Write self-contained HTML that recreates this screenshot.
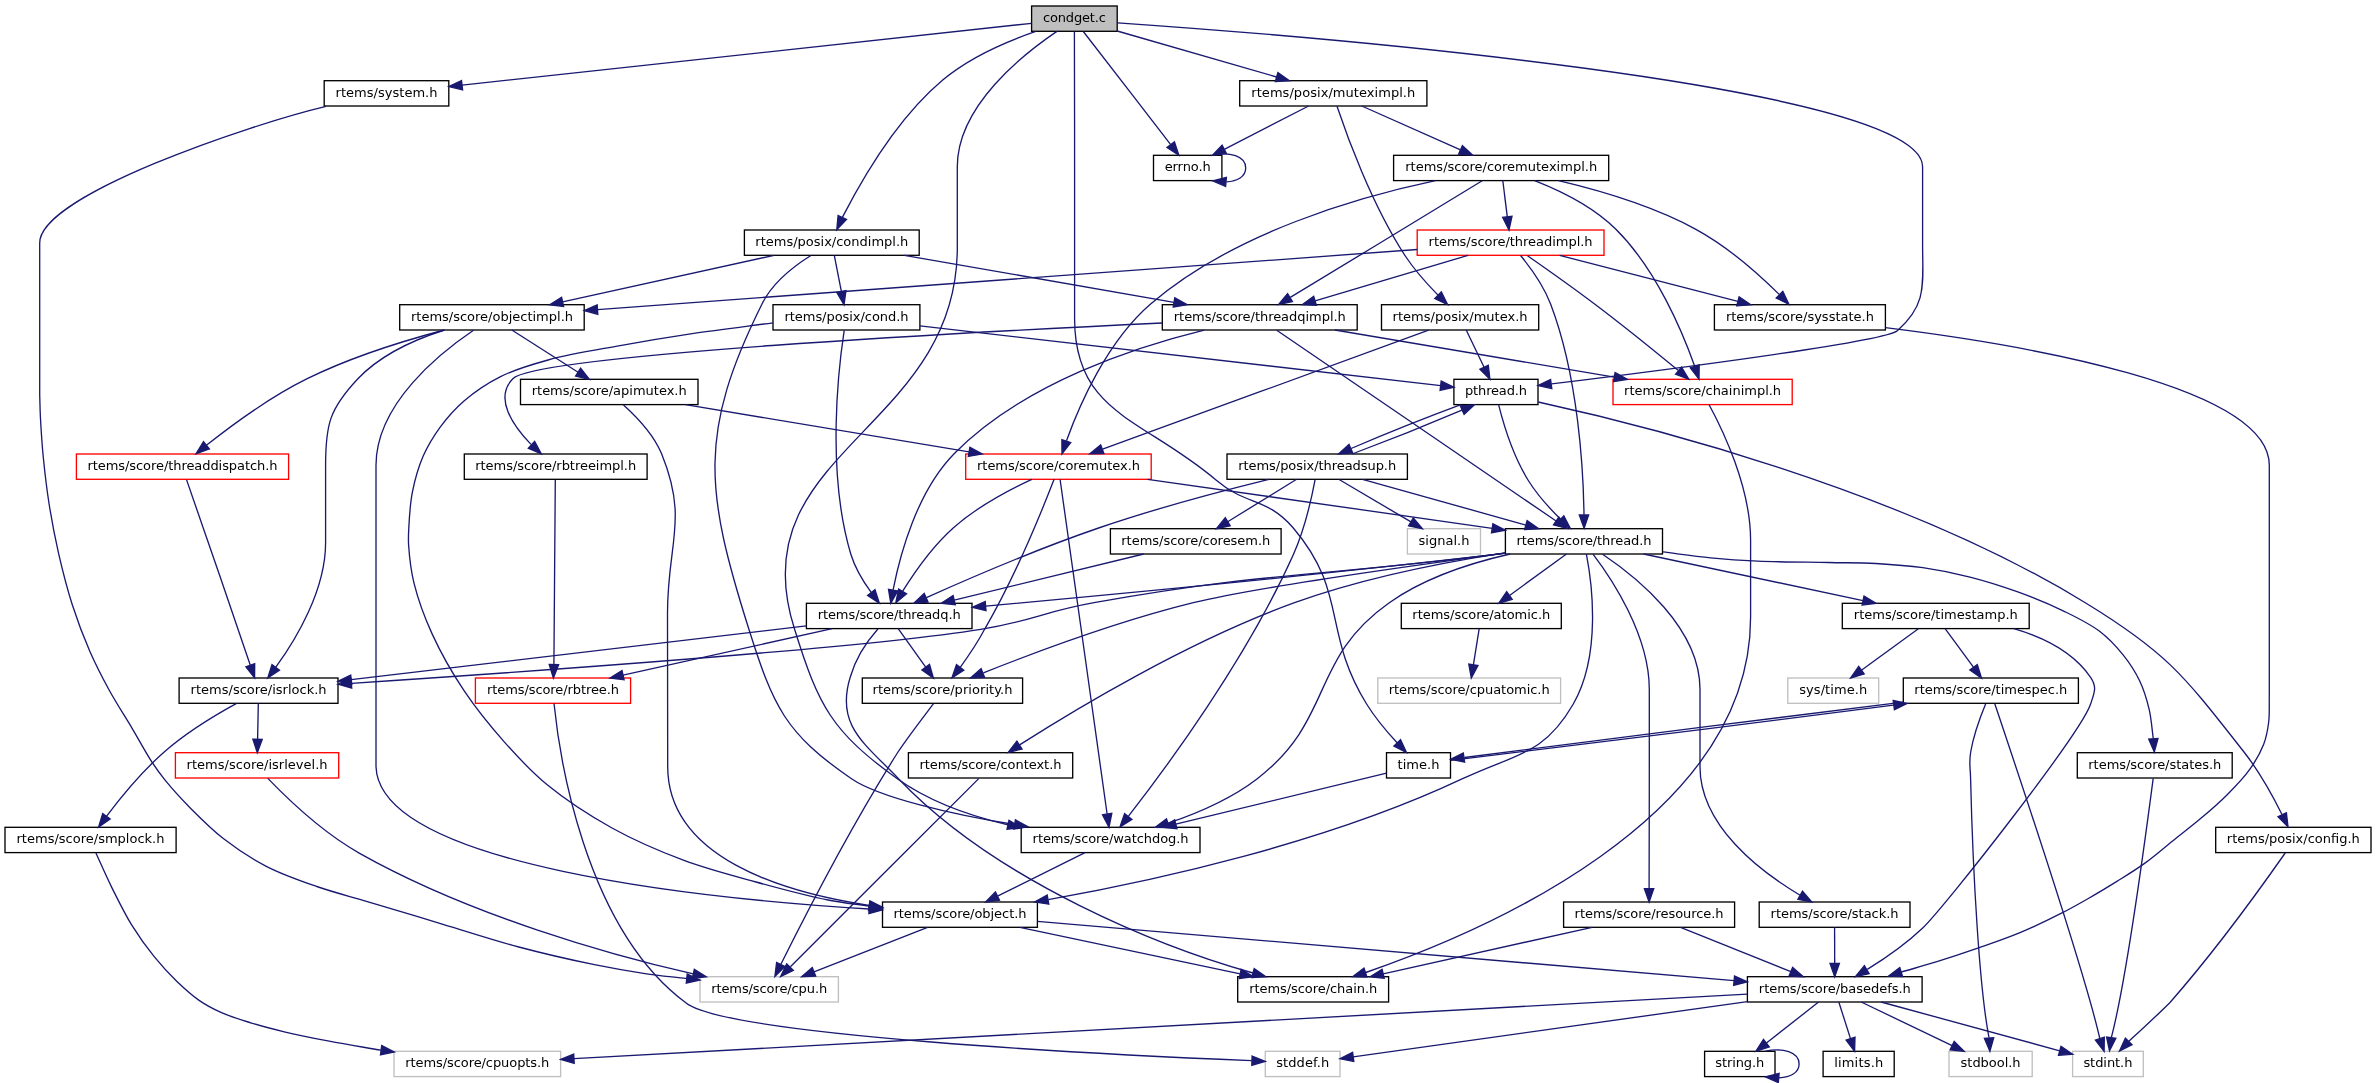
<!DOCTYPE html>
<html lang="en">
<head>
<meta charset="utf-8">
<title>condget.c include dependency graph</title>
<style>
html,body{margin:0;padding:0;background:#fff;}
svg{display:block;will-change:transform;}
text{font-family:"DejaVu Sans","Liberation Sans",sans-serif;font-size:13px;fill:#000;text-anchor:middle;}
.n{stroke-width:1.33;}
.e path{fill:none;stroke:#191970;stroke-width:1.33;}
.e polygon{fill:#191970;stroke:#191970;stroke-width:1.33;}
</style>
</head>
<body>
<svg width="2376" height="1083" viewBox="0 0 2376 1083">
<rect x="0" y="0" width="2376" height="1083" fill="#fff"/>
<g>
<rect class="n" x="1031.6" y="6" width="85.6" height="25.3" fill="#bfbfbf" stroke="#000"/><text x="1074.4" y="22" textLength="63" lengthAdjust="spacing">condget.c</text>
<rect class="n" x="1453.9" y="379.3" width="84.1" height="25.3" fill="#fff" stroke="#000"/><text x="1496" y="395.3" textLength="62" lengthAdjust="spacing">pthread.h</text>
<g class="e"><path d="M1117.6,22.8C1290.4,34.8 1922.6,84.1 1922.6,166.7 1922.6,166.7 1922.6,166.7 1922.6,244 1922.6,284.1 1927.5,304.3 1897.3,330.7 1884.4,341.9 1658.8,370.8 1551.6,383.9"/><polygon points="1551.8,388.6 1538,385.6 1550.6,379.4 1551.8,388.6"/></g>
<rect class="n" x="1386.5" y="752.7" width="64" height="25.3" fill="#fff" stroke="#000"/><text x="1418.5" y="768.7" textLength="42" lengthAdjust="spacing">time.h</text>
<g class="e"><path d="M1074.4,31.4C1074.5,56.1 1074.6,116.2 1074.6,166.7 1074.6,166.7 1074.6,166.7 1074.6,318.7 1074.6,414 1143.3,418.3 1216,480 1246.8,506.2 1267.1,497.2 1293.3,528 1348.2,592.5 1322,631.9 1366.6,704 1375.2,717.9 1386.9,731.8 1397.1,742.7"/><polygon points="1400.6,739.7 1406.5,752.5 1393.9,746.1 1400.6,739.7"/></g>
<rect class="n" x="1021.2" y="827.3" width="178.8" height="25.3" fill="#fff" stroke="#000"/><text x="1110.6" y="843.3" textLength="156" lengthAdjust="spacing">rtems/score/watchdog.h</text>
<g class="e"><path d="M1056.9,31.4C1024.5,53.4 957.3,105.1 957.3,166.7 957.3,166.7 957.3,166.7 957.3,244 960.1,430.8 737.1,450.9 794.6,629.3 818.5,706.2 831.8,731.8 897.3,778.7 929.6,801.8 970.6,816 1008,824.8"/><polygon points="1009,820.2 1021,827.7 1007,829.3 1009,820.2"/></g>
<rect class="n" x="1153.5" y="155.3" width="68.4" height="25.3" fill="#fff" stroke="#000"/><text x="1187.7" y="171.3" textLength="46" lengthAdjust="spacing">errno.h</text>
<g class="e"><path d="M1083.3,31.5C1102.1,55.8 1146.2,112.8 1170.5,144.4"/><polygon points="1174.4,141.8 1178.8,155.2 1167,147.5 1174.4,141.8"/></g>
<rect class="n" x="324.2" y="80.7" width="124.6" height="25.3" fill="#fff" stroke="#000"/><text x="386.5" y="96.7" textLength="102" lengthAdjust="spacing">rtems/system.h</text>
<g class="e"><path d="M1031.6,23.3L462.1,85.1"/><polygon points="461.5,80.5 448.8,86.6 462.6,89.8 461.5,80.5"/></g>
<rect class="n" x="744.4" y="230" width="174.8" height="25.3" fill="#fff" stroke="#000"/><text x="831.8" y="246" textLength="153" lengthAdjust="spacing">rtems/posix/condimpl.h</text>
<g class="e"><path d="M1035.8,31.4C1007.9,41 970.3,56.9 942.7,80 896,119.2 860.3,182.6 842.5,217.1"/><polygon points="846.6,219.4 836.8,229.6 838.1,215.5 846.6,219.4"/></g>
<rect class="n" x="1239.7" y="80.7" width="187.2" height="25.3" fill="#fff" stroke="#000"/><text x="1333.3" y="96.7" textLength="164" lengthAdjust="spacing">rtems/posix/muteximpl.h</text>
<g class="e"><path d="M1117.2,31L1276.6,77"/><polygon points="1275.3,81.5 1289.4,80.7 1277.9,72.5 1275.3,81.5"/></g>
<rect class="n" x="2215.7" y="827.3" width="155.3" height="25.3" fill="#fff" stroke="#000"/><text x="2293.3" y="843.3" textLength="133" lengthAdjust="spacing">rtems/posix/config.h</text>
<g class="e"><path d="M1538.2,402C1638.7,423.9 1897.9,488.2 2085.3,602.7 2168,653.1 2184.1,675.9 2244,752 2259.3,771.5 2273,796.4 2282,814.5"/><polygon points="2286.4,812.7 2288,826.8 2278,816.8 2286.4,812.7"/></g>
<rect class="n" x="1227" y="454" width="180.4" height="25.3" fill="#fff" stroke="#000"/><text x="1317.2" y="470" textLength="158" lengthAdjust="spacing">rtems/posix/threadsup.h</text>
<g class="e"><path d="M1460.9,404.7C1429,416.5 1382.6,435.1 1351.1,448.5"/><polygon points="1352.7,452.9 1338.6,454 1349,444.4 1352.7,452.9"/></g>
<rect class="n" x="1505.4" y="528.7" width="157.1" height="25.3" fill="#fff" stroke="#000"/><text x="1584" y="544.7" textLength="135" lengthAdjust="spacing">rtems/score/thread.h</text>
<g class="e"><path d="M1498.7,405.2C1503.1,422.6 1512.8,455.4 1528,480 1536.8,494.3 1549.4,508.2 1560.4,519"/><polygon points="1563.8,515.8 1570.3,528.3 1557.4,522.6 1563.8,515.8"/></g>
<rect class="n" x="2072.6" y="1051.3" width="70.7" height="25.3" fill="#fff" stroke="#bfbfbf"/><text x="2107.9" y="1067.3" textLength="49" lengthAdjust="spacing">stdint.h</text>
<g class="e"><path d="M2285.2,853C2266.3,880 2217.2,948.7 2169.8,1002.7 2156.5,1015.9 2141,1030.1 2128.9,1041.3"/><polygon points="2132.1,1044.7 2119.5,1051 2125.4,1038.2 2132.1,1044.7"/></g>
<g class="e"><path d="M1352.1,454C1384,442.2 1430.4,423.7 1461.9,410.2"/><polygon points="1460.3,405.8 1474.4,404.7 1464.1,414.3 1460.3,405.8"/></g>
<rect class="n" x="1110.4" y="528.7" width="170.7" height="25.3" fill="#fff" stroke="#000"/><text x="1195.8" y="544.7" textLength="149" lengthAdjust="spacing">rtems/score/coresem.h</text>
<g class="e"><path d="M1296.6,479.3L1227.7,521.7"/><polygon points="1225.3,517.7 1216.4,528.7 1230.2,525.7 1225.3,517.7"/></g>
<rect class="n" x="806.4" y="603.3" width="165.6" height="25.3" fill="#fff" stroke="#000"/><text x="889.2" y="619.3" textLength="143" lengthAdjust="spacing">rtems/score/threadq.h</text>
<g class="e"><path d="M1268.9,479.4C1224.2,490.4 1156.3,508.2 1098.6,528 1037.2,549.1 967.8,579 926.4,597.6"/><polygon points="928,602 913.9,603.2 924.2,593.5 928,602"/></g>
<g class="e"><path d="M1362.5,479.3L1525.9,525.1"/><polygon points="1524.6,529.6 1538.7,528.7 1527.1,520.6 1524.6,529.6"/></g>
<g class="e"><path d="M1315.1,479.6C1311.9,496.6 1304.8,529 1293.3,554.7 1246.5,659.3 1164.6,769.8 1128.5,816.1"/><polygon points="1131.9,819.4 1120,827 1124.6,813.6 1131.9,819.4"/></g>
<rect class="n" x="1407.4" y="528.7" width="73.1" height="25.3" fill="#fff" stroke="#bfbfbf"/><text x="1444" y="544.7" textLength="51" lengthAdjust="spacing">signal.h</text>
<g class="e"><path d="M1338.7,479.3L1411,521.9"/><polygon points="1408.6,525.9 1422.4,528.7 1413.3,517.9 1408.6,525.9"/></g>
<g class="e"><path d="M1143.7,554L954.2,600.2"/><polygon points="953.1,595.6 941.2,603.3 955.3,604.7 953.1,595.6"/></g>
<rect class="n" x="1237.7" y="976.7" width="150.9" height="25.3" fill="#fff" stroke="#000"/><text x="1313.2" y="992.7" textLength="128" lengthAdjust="spacing">rtems/score/chain.h</text>
<g class="e"><path d="M877.9,629C867.8,640.3 855.5,658.5 850.2,677.3 835.4,725.2 864.3,743.2 898.5,778.7 998,883 1164,948 1253,973"/><polygon points="1251.7,977.5 1265.8,976.6 1254.2,968.5 1251.7,977.5"/></g>
<rect class="n" x="179.1" y="678" width="158.9" height="25.3" fill="#fff" stroke="#000"/><text x="258.6" y="694" textLength="136" lengthAdjust="spacing">rtems/score/isrlock.h</text>
<g class="e"><path d="M806.4,625.8L351.2,679.7"/><polygon points="350.7,675.1 338,681.3 351.8,684.3 350.7,675.1"/></g>
<rect class="n" x="862.3" y="678" width="160.3" height="25.3" fill="#fff" stroke="#000"/><text x="942.5" y="694" textLength="140" lengthAdjust="spacing">rtems/score/priority.h</text>
<g class="e"><path d="M898.2,628.7L925.7,667.1"/><polygon points="921.9,669.9 933.4,678 929.5,664.4 921.9,669.9"/></g>
<rect class="n" x="475.4" y="678" width="155.2" height="25.3" fill="#fff" stroke="#f00"/><text x="553" y="694" textLength="132" lengthAdjust="spacing">rtems/score/rbtree.h</text>
<g class="e"><path d="M832.2,628.7L623,675.1"/><polygon points="622,670.6 610,678 624.1,679.7 622,670.6"/></g>
<rect class="n" x="175.4" y="752.7" width="163.3" height="25.3" fill="#fff" stroke="#f00"/><text x="257.1" y="768.7" textLength="141" lengthAdjust="spacing">rtems/score/isrlevel.h</text>
<g class="e"><path d="M258.3,703.3L257.6,739.3"/><polygon points="252.9,739.2 257.3,752.7 262.2,739.4 252.9,739.2"/></g>
<rect class="n" x="5" y="827.3" width="171.1" height="25.3" fill="#fff" stroke="#000"/><text x="90.5" y="843.3" textLength="148" lengthAdjust="spacing">rtems/score/smplock.h</text>
<g class="e"><path d="M236.6,703.4C216.5,714.4 186.7,732.2 164.2,752 142.1,771.3 120.6,797.6 106.6,816.1"/><polygon points="110.2,819 98.6,827 102.7,813.5 110.2,819"/></g>
<rect class="n" x="700" y="976.7" width="138.4" height="25.3" fill="#fff" stroke="#bfbfbf"/><text x="769.2" y="992.7" textLength="116" lengthAdjust="spacing">rtems/score/cpu.h</text>
<g class="e"><path d="M267.8,778.4C285.6,796.8 322.3,832.4 359.6,853.3 470.6,915.7 612,955.5 693.3,973.9"/><polygon points="692.3,978.4 706.3,976.8 694.3,969.3 692.3,978.4"/></g>
<rect class="n" x="394" y="1051.3" width="166.6" height="25.3" fill="#fff" stroke="#bfbfbf"/><text x="477.3" y="1067.3" textLength="144" lengthAdjust="spacing">rtems/score/cpuopts.h</text>
<g class="e"><path d="M95.9,853C101.1,864.4 105.9,875.5 111.6,887.1 117.8,899.5 124.5,913.3 131.8,925.2 138.7,936.4 146.4,947.1 154.2,956.7 161.4,965.6 169,973.8 176.7,981.3 184,988.3 191.4,995.1 199.1,1000.4 206.3,1005.4 213.4,1009.1 221.5,1012.7 230.4,1016.7 240.6,1019.7 250.7,1022.8 261.5,1026.1 272.2,1028.9 284.3,1031.8 298.1,1035.1 313.7,1038.2 329.2,1041.2 345.8,1044.4 363.8,1047.2 381.1,1050.2"/><polygon points="380.5,1054.8 394.3,1052 381.7,1045.5 380.5,1054.8"/></g>
<g class="e"><path d="M933.5,703.7C924.6,715.5 909.7,734.6 898,752 850.3,827.3 802.4,921.1 780.9,964.3"/><polygon points="784.9,966.5 774.9,976.4 776.6,962.4 784.9,966.5"/></g>
<rect class="n" x="1265.3" y="1051.3" width="74.7" height="25.3" fill="#fff" stroke="#bfbfbf"/><text x="1302.7" y="1067.3" textLength="53" lengthAdjust="spacing">stddef.h</text>
<g class="e"><path d="M554,703.5C558.8,750.2 582.9,926.2 685.8,1002.7 726.2,1036 1111.2,1054.9 1251.7,1060.7"/><polygon points="1252.1,1056 1265.3,1061.3 1251.8,1065.4 1252.1,1056"/></g>
<g class="e"><path d="M1504.9,553.3C1500.9,553.8 1497.1,554.2 1493.3,554.7 1314.3,575.4 1105.1,595.2 985.7,606.1"/><polygon points="986,610.7 972.3,607.3 985.2,601.4 986,610.7"/></g>
<g class="e"><path d="M1504.8,553.2C1500.9,553.7 1497.1,554.2 1493.3,554.7 1316.3,577 1270.8,571.3 1094.1,602.7 1043.3,611.7 1031.7,621.3 980.7,629.3 861.3,648.2 518.1,672.3 351.7,683.3"/><polygon points="351.7,688 338,684.2 351,678.7 351.7,688"/></g>
<g class="e"><path d="M1505.1,553.1C1408.6,566.1 1250.9,588.5 1193.3,602.7 1117,621.5 1032.4,653.4 983.4,672.8"/><polygon points="984.6,677.3 970.5,677.9 981.1,668.7 984.6,677.3"/></g>
<rect class="n" x="1401.3" y="603.3" width="160" height="25.3" fill="#fff" stroke="#000"/><text x="1481.3" y="619.3" textLength="138" lengthAdjust="spacing">rtems/score/atomic.h</text>
<g class="e"><path d="M1566.5,554L1509.5,595.5"/><polygon points="1506.7,591.7 1498.7,603.3 1512.2,599.3 1506.7,591.7"/></g>
<rect class="n" x="908.4" y="752.7" width="164.3" height="25.3" fill="#fff" stroke="#000"/><text x="990.5" y="768.7" textLength="142" lengthAdjust="spacing">rtems/score/context.h</text>
<g class="e"><path d="M1504.9,552.9C1445.8,562 1363.6,577.8 1294.6,602.7 1188,641.1 1072.3,711.2 1019.6,744.9"/><polygon points="1022,749 1008.2,752.3 1016.9,741.1 1022,749"/></g>
<rect class="n" x="882.5" y="902" width="154.9" height="25.3" fill="#fff" stroke="#000"/><text x="960" y="918" textLength="133" lengthAdjust="spacing">rtems/score/object.h</text>
<g class="e"><path d="M1586.4,554.2C1591.8,582.1 1601.7,654.6 1573.3,704 1543.7,755.4 1516.3,753.3 1462.6,778.7 1325.2,843.6 1151.4,881.3 1048.3,899.6"/><polygon points="1048.8,904.2 1034.8,901.9 1047.2,895 1048.8,904.2"/></g>
<rect class="n" x="1563.6" y="902" width="171" height="25.3" fill="#fff" stroke="#000"/><text x="1649.1" y="918" textLength="149" lengthAdjust="spacing">rtems/score/resource.h</text>
<g class="e"><path d="M1593,554.1C1611,577.7 1649.3,634.7 1649.3,689.3 1649.3,689.3 1649.3,689.3 1649.3,766.7 1649.3,809.4 1649.2,859.1 1649.1,888.3"/><polygon points="1653.8,888.6 1649.1,901.9 1644.4,888.6 1653.8,888.6"/></g>
<rect class="n" x="1759.2" y="902" width="150.8" height="25.3" fill="#fff" stroke="#000"/><text x="1834.6" y="918" textLength="128" lengthAdjust="spacing">rtems/score/stack.h</text>
<g class="e"><path d="M1602.6,554.2C1635.4,576.2 1700,627.3 1700,689.3 1700,689.3 1700,689.3 1700,766.7 1700,825.9 1760.2,871.5 1800.1,895.2"/><polygon points="1802.5,891.2 1811.8,901.9 1797.9,899.3 1802.5,891.2"/></g>
<rect class="n" x="2077.3" y="752.7" width="154.9" height="25.3" fill="#fff" stroke="#000"/><text x="2154.8" y="768.7" textLength="133" lengthAdjust="spacing">rtems/score/states.h</text>
<g class="e"><path d="M1662.9,551.9C1678.8,553.9 1694.8,556.3 1710.7,557.8 1726.4,559.3 1740.5,560.3 1757.8,561.1 1779,562.1 1807.3,562.1 1828.5,562.5 1845.8,562.9 1860,562.6 1875.7,563.5 1891.4,564.4 1907.2,565.5 1922.8,567.7 1938.6,570 1954.4,573.1 1970,577.1 1985.8,581.1 2001.5,586.1 2017.1,591.7 2032.9,597.4 2049.8,604.3 2064.2,611.3 2077,617.6 2089.5,623.6 2099.6,631.3 2108.8,638.3 2116.3,646.5 2123.1,654.9 2129.6,663 2135.3,671.7 2139.6,680.8 2143.9,689.8 2146.8,699.5 2149.1,709.1 2151.4,718.8 2151.9,728.8 2153.3,738.7"/><polygon points="2148.7,739.1 2154.3,752 2158,738.4 2148.7,739.1"/></g>
<rect class="n" x="1842.3" y="603.3" width="186.9" height="25.3" fill="#fff" stroke="#000"/><text x="1935.8" y="619.3" textLength="164" lengthAdjust="spacing">rtems/score/timestamp.h</text>
<g class="e"><path d="M1643.6,554L1863,600.6"/><polygon points="1862.1,605.1 1876.1,603.3 1864,596 1862.1,605.1"/></g>
<g class="e"><path d="M1510.2,554C1471.6,562.7 1425,577.5 1389.3,602.7 1309.3,658.9 1334.7,718.9 1257.3,778.7 1230.9,799 1196.7,813.5 1168,823.2"/><polygon points="1169.3,827.6 1155.2,827.3 1166.5,818.8 1169.3,827.6"/></g>
<rect class="n" x="1377.8" y="678" width="182.8" height="25.3" fill="#fff" stroke="#bfbfbf"/><text x="1469.2" y="694" textLength="161" lengthAdjust="spacing">rtems/score/cpuatomic.h</text>
<g class="e"><path d="M1479.2,628.7L1473.4,664.8"/><polygon points="1468.8,664.1 1471.3,678 1478,665.6 1468.8,664.1"/></g>
<g class="e"><path d="M978.7,778.6C942.9,814.3 836.2,921.1 790.4,966.8"/><polygon points="793.3,970.4 780.6,976.6 786.7,963.8 793.3,970.4"/></g>
<g class="e"><path d="M1019.9,927.3L1240.2,973.9"/><polygon points="1239.2,978.5 1253.2,976.7 1241.2,969.3 1239.2,978.5"/></g>
<g class="e"><path d="M927.6,927.3L814,971.8"/><polygon points="812.3,967.5 801.6,976.7 815.7,976.2 812.3,967.5"/></g>
<rect class="n" x="1747.4" y="976.7" width="174.7" height="25.3" fill="#fff" stroke="#000"/><text x="1834.8" y="992.7" textLength="152" lengthAdjust="spacing">rtems/score/basedefs.h</text>
<g class="e"><path d="M1037.4,921.3L1734.1,980.7"/><polygon points="1733.7,985.4 1747.4,981.9 1734.5,976.1 1733.7,985.4"/></g>
<g class="e"><path d="M1881.1,1002L2059.7,1050.8"/><polygon points="2058.5,1055.3 2072.6,1054.3 2061,1046.3 2058.5,1055.3"/></g>
<g class="e"><path d="M1747.4,994.1L573.9,1058.7"/><polygon points="573.7,1054 560.6,1059.4 574.2,1063.3 573.7,1054"/></g>
<g class="e"><path d="M1747.4,1001.6L1353.2,1056.9"/><polygon points="1352.6,1052.3 1340,1058.8 1353.8,1061.5 1352.6,1052.3"/></g>
<rect class="n" x="1949" y="1051.3" width="83.2" height="25.3" fill="#fff" stroke="#bfbfbf"/><text x="1990.6" y="1067.3" textLength="60" lengthAdjust="spacing">stdbool.h</text>
<g class="e"><path d="M1861.2,1002L1952.1,1045.6"/><polygon points="1950.1,1049.8 1964.2,1051.3 1954.2,1041.4 1950.1,1049.8"/></g>
<rect class="n" x="1823.1" y="1051.3" width="71.1" height="25.3" fill="#fff" stroke="#000"/><text x="1858.7" y="1067.3" textLength="49" lengthAdjust="spacing">limits.h</text>
<g class="e"><path d="M1838.8,1002L1850.5,1038.6"/><polygon points="1846.1,1040.1 1854.6,1051.3 1855,1037.2 1846.1,1040.1"/></g>
<rect class="n" x="1704.6" y="1051.3" width="70.4" height="25.3" fill="#fff" stroke="#000"/><text x="1739.8" y="1067.3" textLength="49" lengthAdjust="spacing">string.h</text>
<g class="e"><path d="M1818.6,1002L1766.4,1043.1"/><polygon points="1763.5,1039.4 1755.9,1051.3 1769.3,1046.8 1763.5,1039.4"/></g>
<g class="e"><path d="M1765.4,1051.2C1782.5,1047.6 1799.1,1051.9 1799.1,1064 1799.1,1072.8 1790.4,1077.4 1779,1077.9"/><polygon points="1778.3,1082.6 1765.4,1076.8 1779.1,1073.3 1778.3,1082.6"/></g>
<g class="e"><path d="M1592.1,927.3L1383.2,973.8"/><polygon points="1382.1,969.2 1370.1,976.7 1384.2,978.3 1382.1,969.2"/></g>
<g class="e"><path d="M1680.6,927.3L1790.9,971.7"/><polygon points="1789.1,976 1803.3,976.7 1792.6,967.4 1789.1,976"/></g>
<g class="e"><path d="M1834.6,927.3L1834.7,963.3"/><polygon points="1830,963.3 1834.7,976.7 1839.4,963.3 1830,963.3"/></g>
<g class="e"><path d="M2153.2,778.3C2147.5,821.8 2127.3,976.2 2111.4,1037.4"/><polygon points="2115.9,1038.2 2109.5,1050.8 2106.6,1037 2115.9,1038.2"/></g>
<g class="e"><path d="M2013.8,628.7C2042.9,637.1 2073,651.8 2090.6,677.3 2097.3,687.1 2094.4,692.7 2090.6,704 2080.8,733.5 1945.1,906.5 1922.7,928 1906,943.9 1884.8,958.6 1867.3,969.4"/><polygon points="1869.2,973.7 1855.4,976.6 1864.4,965.7 1869.2,973.7"/></g>
<rect class="n" x="1787.8" y="678" width="90.9" height="25.3" fill="#fff" stroke="#bfbfbf"/><text x="1833.2" y="694" textLength="68" lengthAdjust="spacing">sys/time.h</text>
<g class="e"><path d="M1918.4,628.7L1861.4,670.2"/><polygon points="1858.7,666.4 1850.6,678 1864.2,673.9 1858.7,666.4"/></g>
<rect class="n" x="1903.3" y="678" width="175.1" height="25.3" fill="#fff" stroke="#000"/><text x="1990.8" y="694" textLength="153" lengthAdjust="spacing">rtems/score/timespec.h</text>
<g class="e"><path d="M1945.1,628.7L1973.6,667.3"/><polygon points="1969.8,670 1981.5,678 1977.3,664.5 1969.8,670"/></g>
<g class="e"><path d="M1994.7,703.5C2012,755.2 2083.4,966.5 2099.8,1038.5"/><polygon points="2104.3,1037.2 2104.1,1051.3 2095.4,1040.2 2104.3,1037.2"/></g>
<g class="e"><path d="M1985.7,703.7C1980.8,715.5 1973.6,734.7 1970.7,752 1968.7,763.7 1970.4,766.8 1970.6,778.7 1972.9,874.4 1979.4,988.1 1989,1037.6"/><polygon points="1993.7,1037.7 1989.9,1051.3 1984.4,1038.3 1993.7,1037.7"/></g>
<g class="e"><path d="M1903,702.2C1779.6,717.3 1559.5,745 1464.4,757.5"/><polygon points="1464.6,762.2 1450.7,759.3 1463.3,753 1464.6,762.2"/></g>
<g class="e"><path d="M1450.9,760.4C1535,750.5 1762,722.1 1893.4,705.2"/><polygon points="1893.2,700.5 1907,703.4 1894.4,709.7 1893.2,700.5"/></g>
<g class="e"><path d="M1386.5,773.1L1175.8,824.2"/><polygon points="1174.7,819.7 1162.8,827.3 1176.9,828.7 1174.7,819.7"/></g>
<g class="e"><path d="M1085,852.7L997.5,896.1"/><polygon points="995.4,891.9 985.5,902 999.5,900.3 995.4,891.9"/></g>
<g class="e"><path d="M1212.7,155.2C1229.4,151.6 1245.7,155.9 1245.7,168 1245.7,176.7 1237.3,181.3 1226.4,181.9"/><polygon points="1225.6,186.5 1212.7,180.8 1226.4,177.3 1225.6,186.5"/></g>
<g class="e"><path d="M326,106.4C250.8,124.3 39.7,195.2 39.7,243L39.7,395C40,402.9 40,409.9 40.5,418.8 41.1,430.1 42,444 43.3,457.5 44.8,472.3 46.6,488.2 49.1,504 51.7,520.5 55,537.7 58.8,554.4 62.7,571.3 67.1,588.5 72.3,604.8 77.4,620.7 83.4,636.7 89.8,651.3 95.8,665 102.1,677.2 109.1,690 116.3,703.1 125,716.4 132.4,728.8 139.2,740.2 145.7,752.5 151.8,761.8 156.5,769 159.9,773.7 165.3,780.4 172.2,788.9 181.3,798.9 190.5,808.2 200.5,818.3 211.2,829.1 223.3,838.5 236.3,848.6 251,858.4 266.3,866.3 282.1,874.5 299.8,880.6 316.8,886.5 333.5,892.3 348.8,896.1 367.3,901.6 390,908.4 417.8,916.7 443,924.3 468.3,931.9 493.4,940.2 518.8,947 543.9,953.7 571.8,960 594.5,964.7 613,968.5 628.9,971.2 645,973.6 659.5,975.8 672.8,976.9 686.7,978.6"/><polygon points="686.3,983.2 700,980 687.2,974 686.3,983.2"/></g>
<g class="e"><path d="M810.9,255.5C794.4,265.8 772.5,282.6 762,304 697.8,433.1 705.2,490.9 748.9,629.3 773.1,706 784.9,733.3 851.5,778.7 879,797.4 952,814.5 1014.6,824.5"/><polygon points="1013.9,829.1 1027.8,826.6 1015.4,819.9 1013.9,829.1"/></g>
<rect class="n" x="773" y="304.7" width="146.9" height="25.3" fill="#fff" stroke="#000"/><text x="846.5" y="320.7" textLength="124" lengthAdjust="spacing">rtems/posix/cond.h</text>
<g class="e"><path d="M834.3,255.3L841.4,291.6"/><polygon points="836.8,292.5 844,304.7 846,290.7 836.8,292.5"/></g>
<rect class="n" x="399.7" y="304.7" width="184.5" height="25.3" fill="#fff" stroke="#000"/><text x="492" y="320.7" textLength="162" lengthAdjust="spacing">rtems/score/objectimpl.h</text>
<g class="e"><path d="M774.1,255.3L562.6,301.8"/><polygon points="561.6,297.2 549.6,304.7 563.6,306.4 561.6,297.2"/></g>
<rect class="n" x="1162.3" y="304.7" width="194.9" height="25.3" fill="#fff" stroke="#000"/><text x="1259.8" y="320.7" textLength="172" lengthAdjust="spacing">rtems/score/threadqimpl.h</text>
<g class="e"><path d="M904.4,255.3L1174,302.4"/><polygon points="1173.2,307 1187.2,304.7 1174.8,297.8 1173.2,307"/></g>
<g class="e"><path d="M919.9,325.8L1440.7,385.6"/><polygon points="1440.1,390.3 1453.9,387.2 1441.2,381 1440.1,390.3"/></g>
<g class="e"><path d="M844.2,330.3C838.9,365.1 825.8,471.5 851,554.7 855.2,568.2 863.4,581.7 871.2,592.4"/><polygon points="875,589.7 879.3,603.2 867.6,595.4 875,589.7"/></g>
<g class="e"><path d="M773.1,322.8C746.1,326.4 718.4,329.7 692.2,333.6 667.4,337.3 644.1,341.2 620.1,345.6 596.1,350 569.5,354.1 548.1,360 530.3,364.9 514.6,369.6 500.1,376.8 486.7,383.5 474.4,392 464,400.9 454.6,409 446.9,417.9 440,427.3 433.4,436.4 427.7,445.7 423.2,456.1 418.4,467.2 414.8,480 412.4,492.1 410,504 409.3,518.3 408.8,528.1 408.4,534.8 408.2,538.3 408.6,545 409.3,555.2 410.7,569.8 414,583.2 417.9,599 424.2,616.6 432,633.6 440.6,652.5 452.3,673.1 464.4,691.2 476.3,709 490,725.8 504,741.6 517.7,757 530.6,771.2 547.2,784.8 566,800.2 589.3,815.4 612,828 634.9,840.7 659.7,851.3 684,860.4 707.7,869.2 731.9,875.4 756,882 779.9,888.6 807.2,895.9 828,900 843.6,903.1 855.6,904 869.3,906"/><polygon points="868.6,910.6 882.5,908 870,901.4 868.6,910.6"/></g>
<g class="e"><path d="M444.5,330C416.2,339 381.3,354.2 357.9,378.7 329.6,408.7 325.6,424.3 325.6,465.3 325.6,465.3 325.6,465.3 325.6,542.7 325.6,590.4 295.8,639.7 275.8,667.2"/><polygon points="279.5,670.1 267.8,678 272,664.5 279.5,670.1"/></g>
<g class="e"><path d="M473.5,330.3C440.9,352.3 376,403.6 376,465.3 376,465.3 376,465.3 376,766.7 379.8,866.1 706.3,898.9 869.2,909"/><polygon points="869.5,904.4 882.5,909.9 868.9,913.7 869.5,904.4"/></g>
<rect class="n" x="520.5" y="379.3" width="177.5" height="25.3" fill="#fff" stroke="#000"/><text x="609.2" y="395.3" textLength="155" lengthAdjust="spacing">rtems/score/apimutex.h</text>
<g class="e"><path d="M511.8,330L578.1,372.2"/><polygon points="575.6,376.1 589.4,379.3 580.6,368.2 575.6,376.1"/></g>
<rect class="n" x="76.4" y="454" width="212.2" height="25.3" fill="#fff" stroke="#f00"/><text x="182.5" y="470" textLength="190" lengthAdjust="spacing">rtems/score/threaddispatch.h</text>
<g class="e"><path d="M444.3,330C406.3,340.1 351.9,356.6 307.2,378.7 269.8,397.2 230.9,425.9 206.7,445.1"/><polygon points="209.4,448.9 196.1,453.7 203.5,441.7 209.4,448.9"/></g>
<g class="e"><path d="M623.5,404.9C635.7,415.9 653.2,433.7 661.4,453.3 688.9,520.5 667.1,542.9 667.5,614.7 667.5,614.7 667.5,614.7 667.7,766.7 668,857.9 783.3,892.4 869,905.4"/><polygon points="869.9,900.9 882.5,907.3 868.6,910.1 869.9,900.9"/></g>
<rect class="n" x="965.7" y="454" width="185.5" height="25.3" fill="#fff" stroke="#f00"/><text x="1058.5" y="470" textLength="163" lengthAdjust="spacing">rtems/score/coremutex.h</text>
<g class="e"><path d="M685.5,404.7L969.1,451.8"/><polygon points="968.3,456.4 982.2,454 969.9,447.2 968.3,456.4"/></g>
<g class="e"><path d="M1031.8,479.3C1009.2,489.8 976.9,506.9 953.2,528 932.6,546.4 914.4,572.4 902.7,591.2"/><polygon points="906.6,593.8 895.8,602.8 898.6,589 906.6,593.8"/></g>
<g class="e"><path d="M1054.1,479.3C1043.7,506.2 1015.6,575.6 984.6,629.3 977.6,642.4 968.4,656.1 960.4,667.1"/><polygon points="963.8,670.3 951.9,677.9 956.5,664.5 963.8,670.3"/></g>
<g class="e"><path d="M1147.6,479.3L1492.2,528.3"/><polygon points="1491.5,532.9 1505.4,530.2 1492.9,523.7 1491.5,532.9"/></g>
<g class="e"><path d="M1060.1,479.5C1067.4,531.1 1097,741.6 1107.1,814"/><polygon points="1111.8,813.4 1109,827.3 1102.5,814.7 1111.8,813.4"/></g>
<g class="e"><path d="M186.6,479.9C198.8,514.9 234.4,617.9 250.3,665.2"/><polygon points="254.7,663.8 254.6,677.9 245.9,666.8 254.7,663.8"/></g>
<g class="e"><path d="M1204.2,330.1C1136.9,346.5 1024.3,382.9 954.6,453.3 916.7,491.7 899.9,555 893.1,589.8"/><polygon points="897.7,590.9 890.8,603.2 888.5,589.3 897.7,590.9"/></g>
<g class="e"><path d="M1276.7,330.3C1329.5,366.3 1490.9,476.4 1556.1,521"/><polygon points="1558.8,517.1 1567.2,528.5 1553.5,524.9 1558.8,517.1"/></g>
<rect class="n" x="1613" y="379.3" width="179.2" height="25.3" fill="#fff" stroke="#f00"/><text x="1702.6" y="395.3" textLength="157" lengthAdjust="spacing">rtems/score/chainimpl.h</text>
<g class="e"><path d="M1334.9,330L1614.3,377.1"/><polygon points="1613.6,381.7 1627.5,379.3 1615.1,372.5 1613.6,381.7"/></g>
<rect class="n" x="464.3" y="454" width="182.8" height="25.3" fill="#fff" stroke="#000"/><text x="555.7" y="470" textLength="161" lengthAdjust="spacing">rtems/score/rbtreeimpl.h</text>
<g class="e"><path d="M1162.3,323C965.2,332.3 535.5,355.2 512.8,378.7 493.9,398.1 512.8,425.6 531,444.4"/><polygon points="534.6,441.4 541.3,453.8 528.3,448.2 534.6,441.4"/></g>
<g class="e"><path d="M1709.1,404.7C1722.2,428.8 1750.6,487.2 1750.6,540 1750.6,540 1750.6,540 1750.6,617.3 1750.6,821.4 1476.7,933.9 1365.8,972.5"/><polygon points="1366.9,977 1352.8,976.6 1364,968.1 1366.9,977"/></g>
<g class="e"><path d="M555.3,479.9C555,514.7 554.3,617 553.9,664.6"/><polygon points="558.6,664.7 553.4,677.9 549.2,664.4 558.6,664.7"/></g>
<g class="e"><path d="M1308.6,106L1224.3,149.3"/><polygon points="1222.1,145.1 1212.4,155.3 1226.4,153.4 1222.1,145.1"/></g>
<rect class="n" x="1381.5" y="304.7" width="157.2" height="25.3" fill="#fff" stroke="#000"/><text x="1460.1" y="320.7" textLength="135" lengthAdjust="spacing">rtems/posix/mutex.h</text>
<g class="e"><path d="M1337,106.2C1346.2,133.7 1371.4,204.1 1405.3,256 1414.6,270.1 1427.2,284.1 1438,295.1"/><polygon points="1441.3,291.9 1447.6,304.5 1434.8,298.5 1441.3,291.9"/></g>
<rect class="n" x="1393.6" y="155.3" width="215.1" height="25.3" fill="#fff" stroke="#000"/><text x="1501.2" y="171.3" textLength="192" lengthAdjust="spacing">rtems/score/coremuteximpl.h</text>
<g class="e"><path d="M1361.8,106L1460.5,149.9"/><polygon points="1458.6,154.2 1472.7,155.3 1462.4,145.7 1458.6,154.2"/></g>
<g class="e"><path d="M1466.2,330L1484.1,367.3"/><polygon points="1479.9,369.3 1489.9,379.3 1488.3,365.3 1479.9,369.3"/></g>
<g class="e"><path d="M1428.6,330.2C1357.5,356.1 1184.3,419.4 1102.6,449.2"/><polygon points="1103.9,453.7 1089.8,453.9 1100.7,444.9 1103.9,453.7"/></g>
<g class="e"><path d="M1435.5,180.7C1359.4,196.7 1234,232.4 1150.6,304 1106.8,341.7 1079.1,405.8 1066.5,440.7"/><polygon points="1070.7,442.7 1062,453.8 1061.9,439.7 1070.7,442.7"/></g>
<g class="e"><path d="M1482.2,180.8C1440.7,206.1 1341,266.7 1290.3,297.4"/><polygon points="1292.4,301.6 1278.6,304.5 1287.6,293.6 1292.4,301.6"/></g>
<g class="e"><path d="M1534.6,180.7C1559.4,190.4 1592.9,206.6 1615.9,229.3 1656.3,269.2 1682.5,331.9 1694.7,366.2"/><polygon points="1699.2,364.9 1699,379 1690.3,367.9 1699.2,364.9"/></g>
<rect class="n" x="1714.4" y="304.7" width="171" height="25.3" fill="#fff" stroke="#000"/><text x="1799.9" y="320.7" textLength="148" lengthAdjust="spacing">rtems/score/sysstate.h</text>
<g class="e"><path d="M1558.5,180.7C1598.5,190.1 1652.5,205.8 1695.9,229.3 1728,246.7 1759.4,274.9 1779.2,294.4"/><polygon points="1782.8,291.4 1788.9,304.2 1776.2,298 1782.8,291.4"/></g>
<rect class="n" x="1417.2" y="230" width="186.8" height="25.3" fill="#fff" stroke="#f00"/><text x="1510.6" y="246" textLength="164" lengthAdjust="spacing">rtems/score/threadimpl.h</text>
<g class="e"><path d="M1502.8,180.7L1507.3,216.8"/><polygon points="1502.7,217.4 1509,230 1512,216.2 1502.7,217.4"/></g>
<g class="e"><path d="M1885.4,327.7C2020.8,344.4 2269.3,385.8 2269.3,465.3L2269.3,695C2269.1,704 2269.7,713.5 2268.7,722 2267.7,729.8 2266.5,736.9 2263.7,744.3 2260.5,752.6 2255.6,761.2 2249.9,769.2 2243.8,777.9 2235.8,786.1 2227.7,794.2 2219.2,802.8 2209.4,811.2 2200,819.1 2190.9,826.8 2181.5,833.8 2172.3,841.2 2163.1,848.6 2154,856.6 2144.6,863.4 2135.5,870 2126.2,875.6 2116.9,881.4 2107.7,887.1 2098.5,892.7 2089.2,898 2080,903.3 2071.8,908 2061.5,913.2 2049.2,919.5 2034,926.8 2020,932.6 2006.3,938.3 1992.4,943 1978.5,947.9 1964.7,952.7 1950.3,957.5 1936.9,961.7 1924.6,965.5 1913.1,968.6 1901.2,972.1"/><polygon points="1899.8,967.6 1888.5,976.1 1902.6,976.5 1899.8,967.6"/></g>
<g class="e"><path d="M1520.6,255.5C1530,267 1543.6,285.5 1550.6,304 1578.4,377 1583.4,470.6 1584,514.8"/><polygon points="1588.7,514.9 1584.1,528.2 1579.3,514.9 1588.7,514.9"/></g>
<g class="e"><path d="M1417.2,249.5L597.5,309.6"/><polygon points="597.2,304.9 584.2,310.6 597.8,314.3 597.2,304.9"/></g>
<g class="e"><path d="M1468,255.3L1315.1,300.9"/><polygon points="1313.7,296.4 1302.3,304.7 1316.4,305.3 1313.7,296.4"/></g>
<g class="e"><path d="M1527.5,255.7C1544.6,267.6 1571.8,286.7 1594.6,304 1623.7,326 1656.3,352.4 1678,370.3"/><polygon points="1681.5,367.1 1688.8,379.2 1675.6,374.3 1681.5,367.1"/></g>
<g class="e"><path d="M1559.7,255.3L1737.9,301.3"/><polygon points="1736.7,305.9 1750.8,304.7 1739.1,296.8 1736.7,305.9"/></g>
</g>
</svg>
</body>
</html>
